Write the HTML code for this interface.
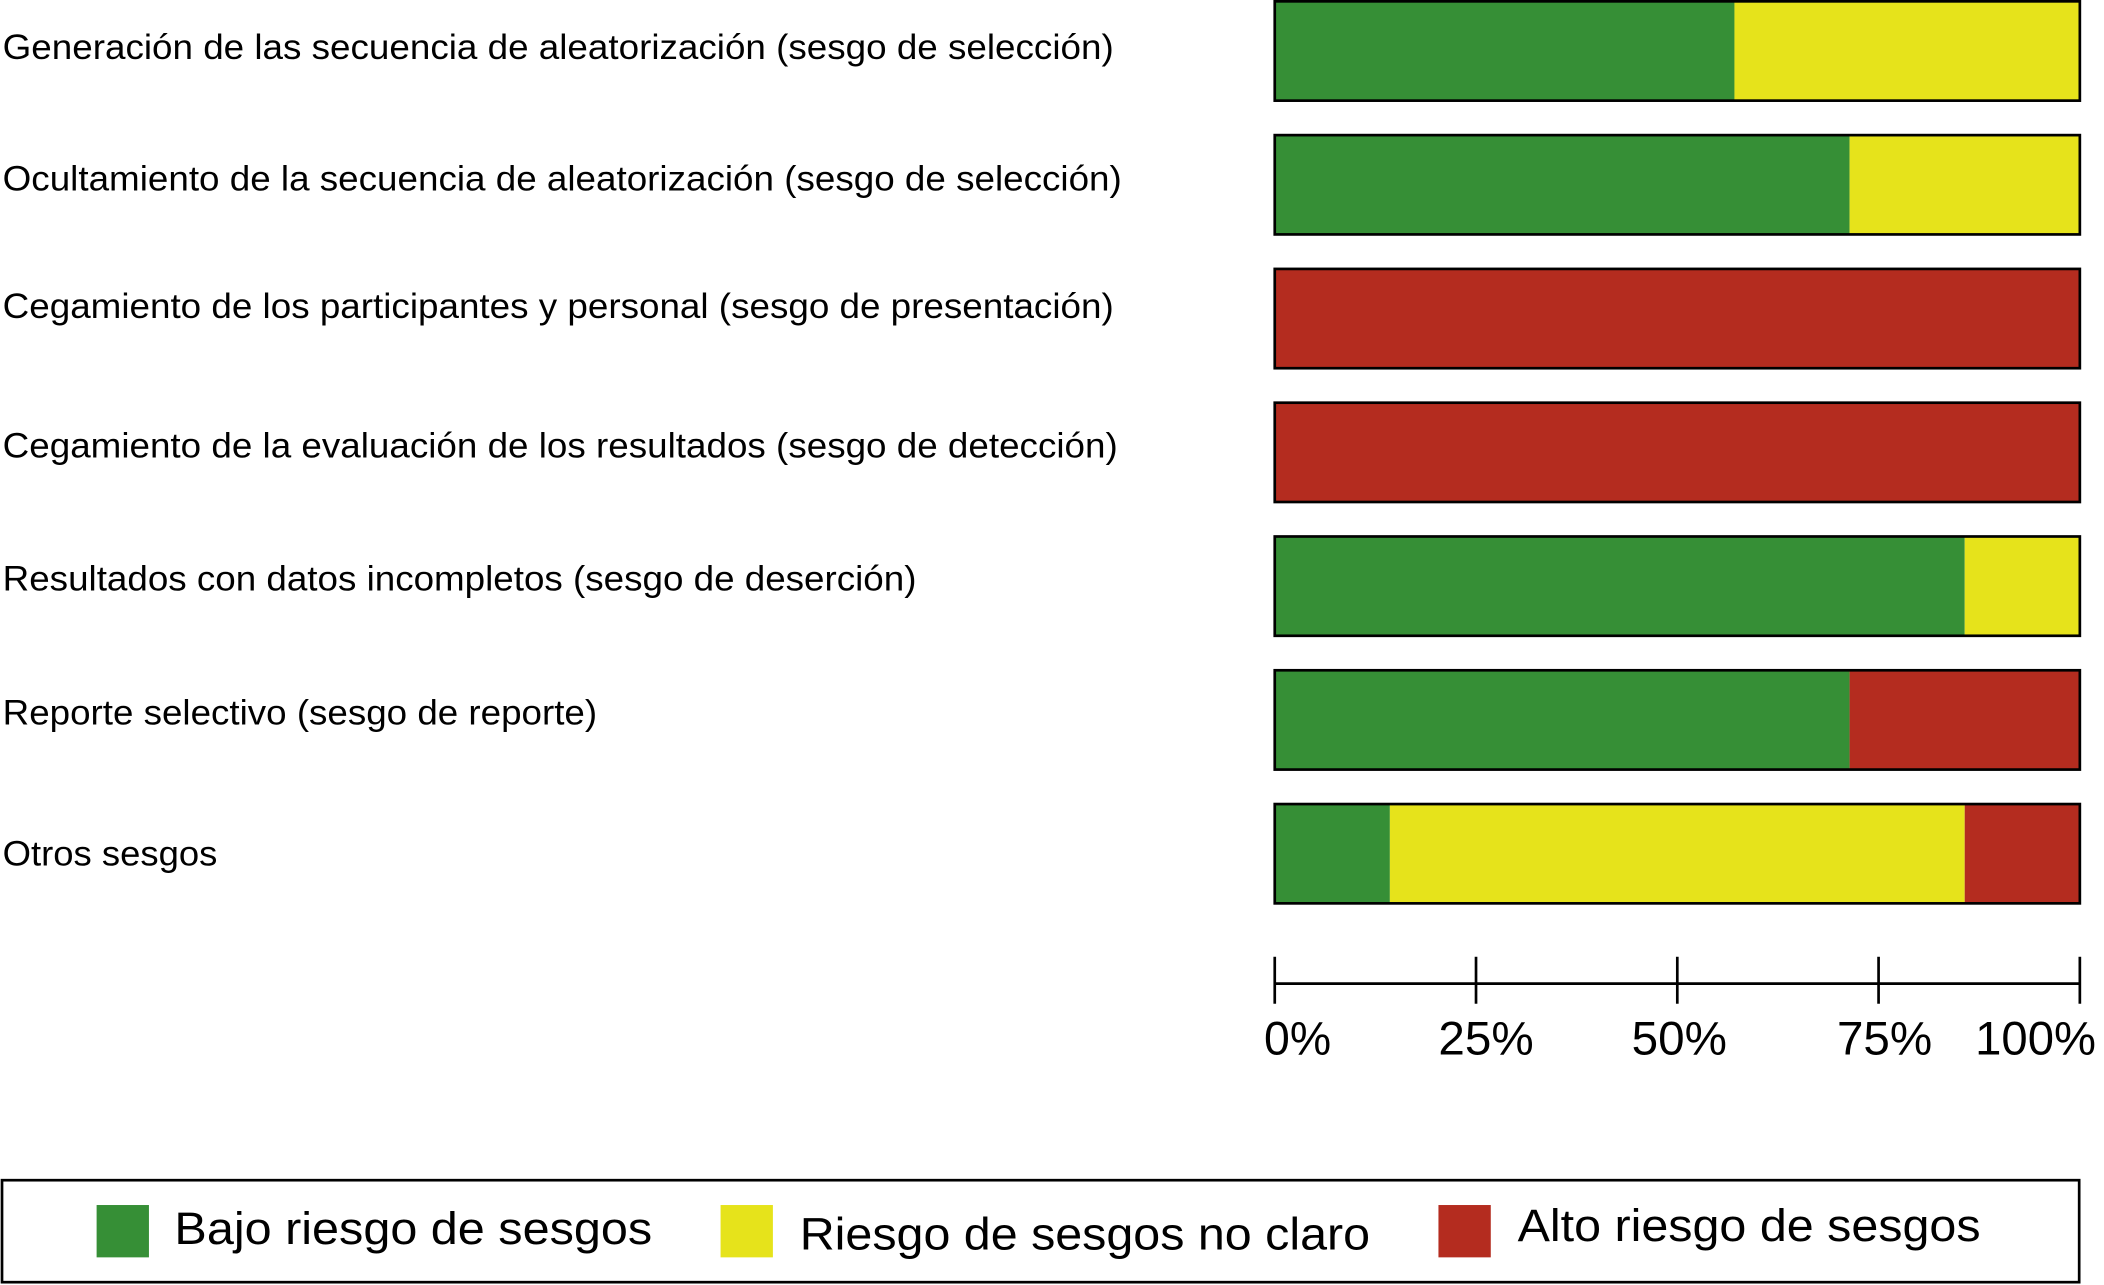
<!DOCTYPE html>
<html><head><meta charset="utf-8"><style>
html,body{margin:0;padding:0;background:#fff}
svg{display:block}
text{font-family:"Liberation Sans",Arial,sans-serif;fill:#000}
</style></head><body>
<svg id="chart" width="2104" height="1285" viewBox="0 0 1568 957.6" preserveAspectRatio="none" xmlns="http://www.w3.org/2000/svg">
<g id="bars"></g>
<g id="labels"></g>
<g id="axis"></g>
<g>
<rect x="1.5" y="879.5" width="1548" height="76" fill="#fff" stroke="#000" stroke-width="2"/>
<rect x="72" y="898" width="39" height="39" fill="#368f36"/>
<text x="130" y="927" font-size="34" textLength="356" lengthAdjust="spacingAndGlyphs">Bajo riesgo de sesgos</text>
<rect x="537" y="898" width="39" height="39" fill="#e6e31b"/>
<text x="596" y="931" font-size="34" textLength="425" lengthAdjust="spacingAndGlyphs">Riesgo de sesgos no claro</text>
<rect x="1072" y="898" width="39" height="39" fill="#b42c1f"/>
<text x="1131" y="925" font-size="34" textLength="345" lengthAdjust="spacingAndGlyphs">Alto riesgo de sesgos</text>
</g>
</svg>
<script>
const categories = [
 "Generación de las secuencia de aleatorización (sesgo de selección)",
 "Ocultamiento de la secuencia de aleatorización (sesgo de selección)",
 "Cegamiento de los participantes y personal (sesgo de presentación)",
 "Cegamiento de la evaluación de los resultados (sesgo de detección)",
 "Resultados con datos incompletos (sesgo de deserción)",
 "Reporte selectivo (sesgo de reporte)",
 "Otros sesgos"];
const lowRisk = [57.1, 71.4, 0, 0, 85.7, 71.4, 14.3];
const unclearRisk = [42.9, 28.6, 0, 0, 14.3, 0, 71.4];
const highRisk = [0, 0, 100, 100, 0, 28.6, 14.3];
const tickValues = [0, 25, 50, 75, 100];
const tickLabels = ["0%", "25%", "50%", "75%", "100%"];

const labelWidths = [828, 834, 828, 831, 681, 443, 160];
const labelBaselines = [44, 142, 237, 341, 440, 540, 645];
const tickLabelLeft = [942, 1072, 1216, 1369, 1472];
const tickLabelWidth = [50, 71, 71, 71, 90];

const NS = "http://www.w3.org/2000/svg";
const x0 = 950, x1 = 1550;
const xScale = v => x0 + (x1 - x0) * v / 100;
const yTop = i => 1 + i * 99.7;
const barH = 74;
const colors = ["#368f36", "#e6e31b", "#b42c1f"];
const names = ["low", "unclear", "high"];
const bars = document.getElementById("bars");
const labels = document.getElementById("labels");
const axis = document.getElementById("axis");
function mk(tag, attrs, parent){const e=document.createElementNS(NS,tag);for(const k in attrs)e.setAttribute(k,attrs[k]);parent.appendChild(e);return e;}
categories.forEach((c, i) => {
  const vals = [lowRisk[i], unclearRisk[i], highRisk[i]];
  let acc = 0;
  vals.forEach((v, j) => {
    if (v <= 0) return;
    const r = mk("rect", {x: xScale(acc), y: yTop(i), width: xScale(acc + v) - xScale(acc), height: barH, fill: colors[j]}, bars);
    
    
    acc += v;
  });
  const o = mk("rect", {x: x0, y: yTop(i), width: x1 - x0, height: barH, fill: "none", stroke: "#000", "stroke-width": 2}, bars);
  
  
  const t = mk("text", {x: 2, y: labelBaselines[i], "font-size": 26, textLength: labelWidths[i], lengthAdjust: "spacingAndGlyphs"}, labels);
  t.textContent = c;
  
  
});
const al = mk("line", {x1: xScale(0), x2: xScale(100), y1: 733, y2: 733, stroke: "#000", "stroke-width": 2}, axis);


tickValues.forEach((v, i) => {
  const tk = mk("line", {x1: xScale(v), x2: xScale(v), y1: 713, y2: 748, stroke: "#000", "stroke-width": 2}, axis);
  
  
  const tl = mk("text", {x: tickLabelLeft[i], y: 786, "font-size": 35, textLength: tickLabelWidth[i], lengthAdjust: "spacingAndGlyphs"}, axis);
  tl.textContent = tickLabels[i];
  
  
});
</script>
</body></html>
